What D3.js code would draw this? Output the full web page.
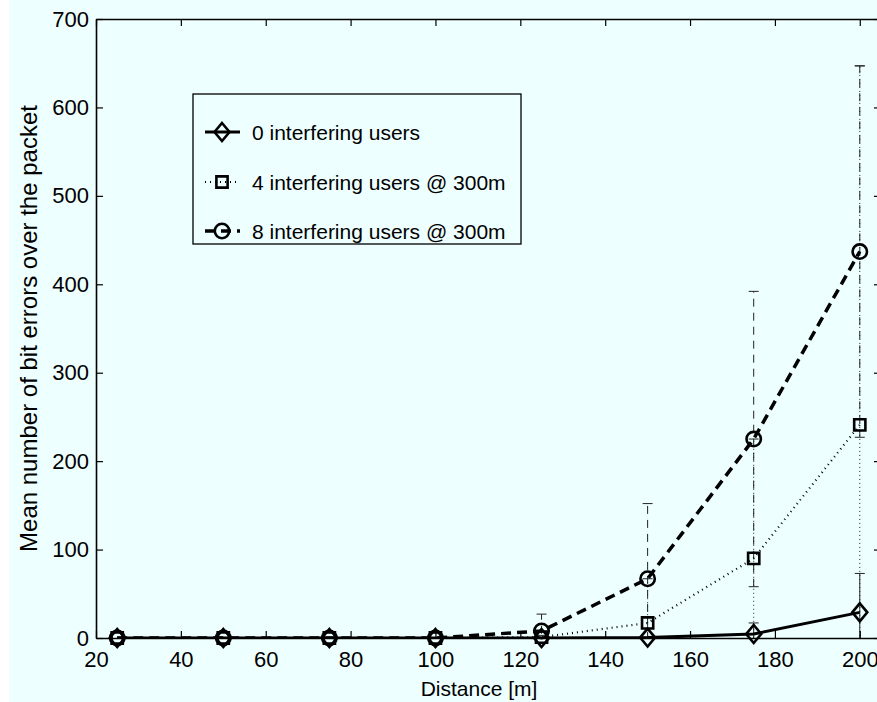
<!DOCTYPE html>
<html>
<head>
<meta charset="utf-8">
<script src="https://cdn.jsdelivr.net/npm/d3@7"></script>
<style>
  body { margin: 0; background: #ffffff; }
  svg { display: block; }
  text { font-family: "Liberation Sans", Arial, Helvetica, sans-serif; fill: #000; }
</style>
</head>
<body>
<svg id="chart" width="877" height="702"></svg>
<script>
// ---- data ----
const distances = [25, 50, 75, 100, 125, 150, 175, 200];
const xTickValues = [20, 40, 60, 80, 100, 120, 140, 160, 180, 200];
const yTickValues = [0, 100, 200, 300, 400, 500, 600, 700];
const seriesLabels = ["0 interfering users", "4 interfering users @ 300m", "8 interfering users @ 300m"];
const meanNoInterferers = [0, 0, 0, 0, 0, 0.5, 4.5, 29];
const errNoInterferers  = [0, 0, 0, 0, 0, 0.5, 12.5, 44];
const meanFourUsers     = [0, 0, 0, 0, 1, 17, 90, 241];
const errFourUsers      = [0, 0, 0, 0, 2, 50, 135, 406];
const meanEightUsers    = [0, 0, 0, 0, 8, 67, 225, 437];
const errEightUsers     = [0, 0, 0, 0, 19, 85, 167, 210];
const xLabel = "Distance [m]";
const yLabel = "Mean number of bit errors over the packet";

// ---- layout ----
const W = 877, H = 702;
const plotL = 96, plotR = 881, plotT = 19, plotB = 638;
const bg = "#eeffff";

const svg = d3.select("#chart");
svg.append("rect").attr("x", 0).attr("y", 0).attr("width", W).attr("height", H).attr("fill", "#ffffff");
svg.append("rect").attr("x", 9).attr("y", 0).attr("width", W - 9).attr("height", H).attr("fill", bg);

const x = d3.scaleLinear().domain([20, 205]).range([plotL, plotR]);
const y = d3.scaleLinear().domain([0, 700]).range([plotB, plotT]);

svg.append("defs").append("clipPath").attr("id", "plotClip")
  .append("rect").attr("x", plotL).attr("y", plotT).attr("width", plotR - plotL).attr("height", plotB - plotT);

// series descriptions built from the arrays above
const series = [
  { label: seriesLabels[0], mean: meanNoInterferers, err: errNoInterferers, marker: "diamond",
    lineDash: null, lineWidth: 3, barDash: null },
  { label: seriesLabels[1], mean: meanFourUsers, err: errFourUsers, marker: "square",
    lineDash: "1,4", lineWidth: 2.2, barDash: "1,3" },
  { label: seriesLabels[2], mean: meanEightUsers, err: errEightUsers, marker: "circle",
    lineDash: "10,6", lineWidth: 3.5, barDash: "8,6" }
];

const plot = svg.append("g").attr("clip-path", "url(#plotClip)");

// error bars (thin, same line style as their series)
series.forEach(s => {
  const g = plot.append("g").attr("stroke", "#222").attr("stroke-width", 1).attr("fill", "none");
  distances.forEach((d, i) => {
    const e = s.err[i];
    if (!(e > 0)) return;
    const cx = x(d), y0 = y(s.mean[i] - e), y1 = y(s.mean[i] + e);
    g.append("line").attr("x1", cx).attr("x2", cx).attr("y1", y0).attr("y2", y1)
      .attr("stroke-dasharray", s.barDash);
    [y0, y1].forEach(yy => g.append("line")
      .attr("x1", cx - 5).attr("x2", cx + 5).attr("y1", yy).attr("y2", yy));
  });
});

// straight segments between the measured distances
const line = d3.line()
  .x((d, i) => x(distances[i]))
  .y(d => y(d));

series.forEach(s => {
  plot.append("path")
    .attr("d", line(s.mean))
    .attr("fill", "none")
    .attr("stroke", "#000")
    .attr("stroke-width", s.lineWidth)
    .attr("stroke-dasharray", s.lineDash)
    .attr("stroke-linecap", "butt");
});

// markers
function drawMarker(g, type, cx, cy) {
  const m = g.append(type === "circle" ? "circle" : "path")
    .attr("fill", "none").attr("stroke", "#000").attr("stroke-width", 2.6);
  if (type === "circle") {
    m.attr("cx", cx).attr("cy", cy).attr("r", 7.2);
  } else if (type === "square") {
    const h = 5.6;
    m.attr("d", `M${cx - h},${cy - h}H${cx + h}V${cy + h}H${cx - h}Z`);
  } else {
    const hx = 7.5, hy = 9;
    m.attr("d", `M${cx},${cy - hy}L${cx + hx},${cy}L${cx},${cy + hy}L${cx - hx},${cy}Z`);
  }
}

const markerLayer = svg.append("g");
series.forEach(s => {
  distances.forEach((d, i) => drawMarker(markerLayer, s.marker, x(d), y(s.mean[i])));
});

// axes: ticks inward on all four sides
const axisStyle = g => {
  g.select(".domain").attr("stroke", "#000").attr("stroke-width", 1.6);
  g.selectAll(".tick line").attr("stroke", "#000").attr("stroke-width", 1.2);
  g.selectAll(".tick text").attr("font-size", 22).attr("fill", "#000")
    .attr("font-family", "\"Liberation Sans\", Arial, sans-serif");
};

svg.append("g").attr("transform", `translate(0,${plotB})`)
  .call(d3.axisBottom(x).tickValues(xTickValues).tickSizeInner(-7).tickSizeOuter(0).tickPadding(13)
    .tickFormat(d3.format("d")))
  .call(axisStyle);
svg.append("g").attr("transform", `translate(0,${plotT})`)
  .call(d3.axisTop(x).tickValues(xTickValues).tickSizeInner(-7).tickSizeOuter(0).tickFormat(""))
  .call(axisStyle);
svg.append("g").attr("transform", `translate(${plotL},0)`)
  .call(d3.axisLeft(y).tickValues(yTickValues).tickSizeInner(-7).tickSizeOuter(0).tickPadding(7)
    .tickFormat(d3.format("d")))
  .call(axisStyle);
svg.append("g").attr("transform", `translate(${plotR},0)`)
  .call(d3.axisRight(y).tickValues(yTickValues).tickSizeInner(-7).tickSizeOuter(0).tickFormat(""))
  .call(axisStyle);

// axis titles
svg.append("text")
  .attr("x", 479).attr("y", 696)
  .attr("text-anchor", "middle").attr("font-size", 21)
  .text(xLabel);
svg.append("text")
  .attr("transform", `translate(37,${(plotT + plotB) / 2}) rotate(-90)`)
  .attr("text-anchor", "middle").attr("font-size", 24)
  .text(yLabel);

// legend
const lg = svg.append("g");
const lx = 193, ly = 94, lw = 328, lh = 150;
lg.append("rect").attr("x", lx).attr("y", ly).attr("width", lw).attr("height", lh)
  .attr("fill", bg).attr("stroke", "#000").attr("stroke-width", 1.3);
const rowY = [132, 182, 231];
series.forEach((s, i) => {
  const yy = rowY[i];
  lg.append("line").attr("x1", 205).attr("x2", 240).attr("y1", yy).attr("y2", yy)
    .attr("stroke", "#000").attr("stroke-width", s.lineWidth)
    .attr("stroke-dasharray", s.lineDash);
  drawMarker(lg, s.marker, 222, yy);
  lg.append("text").attr("x", 252).attr("y", yy).attr("dy", "0.36em")
    .attr("font-size", 21).text(s.label);
});
</script>
</body>
</html>
